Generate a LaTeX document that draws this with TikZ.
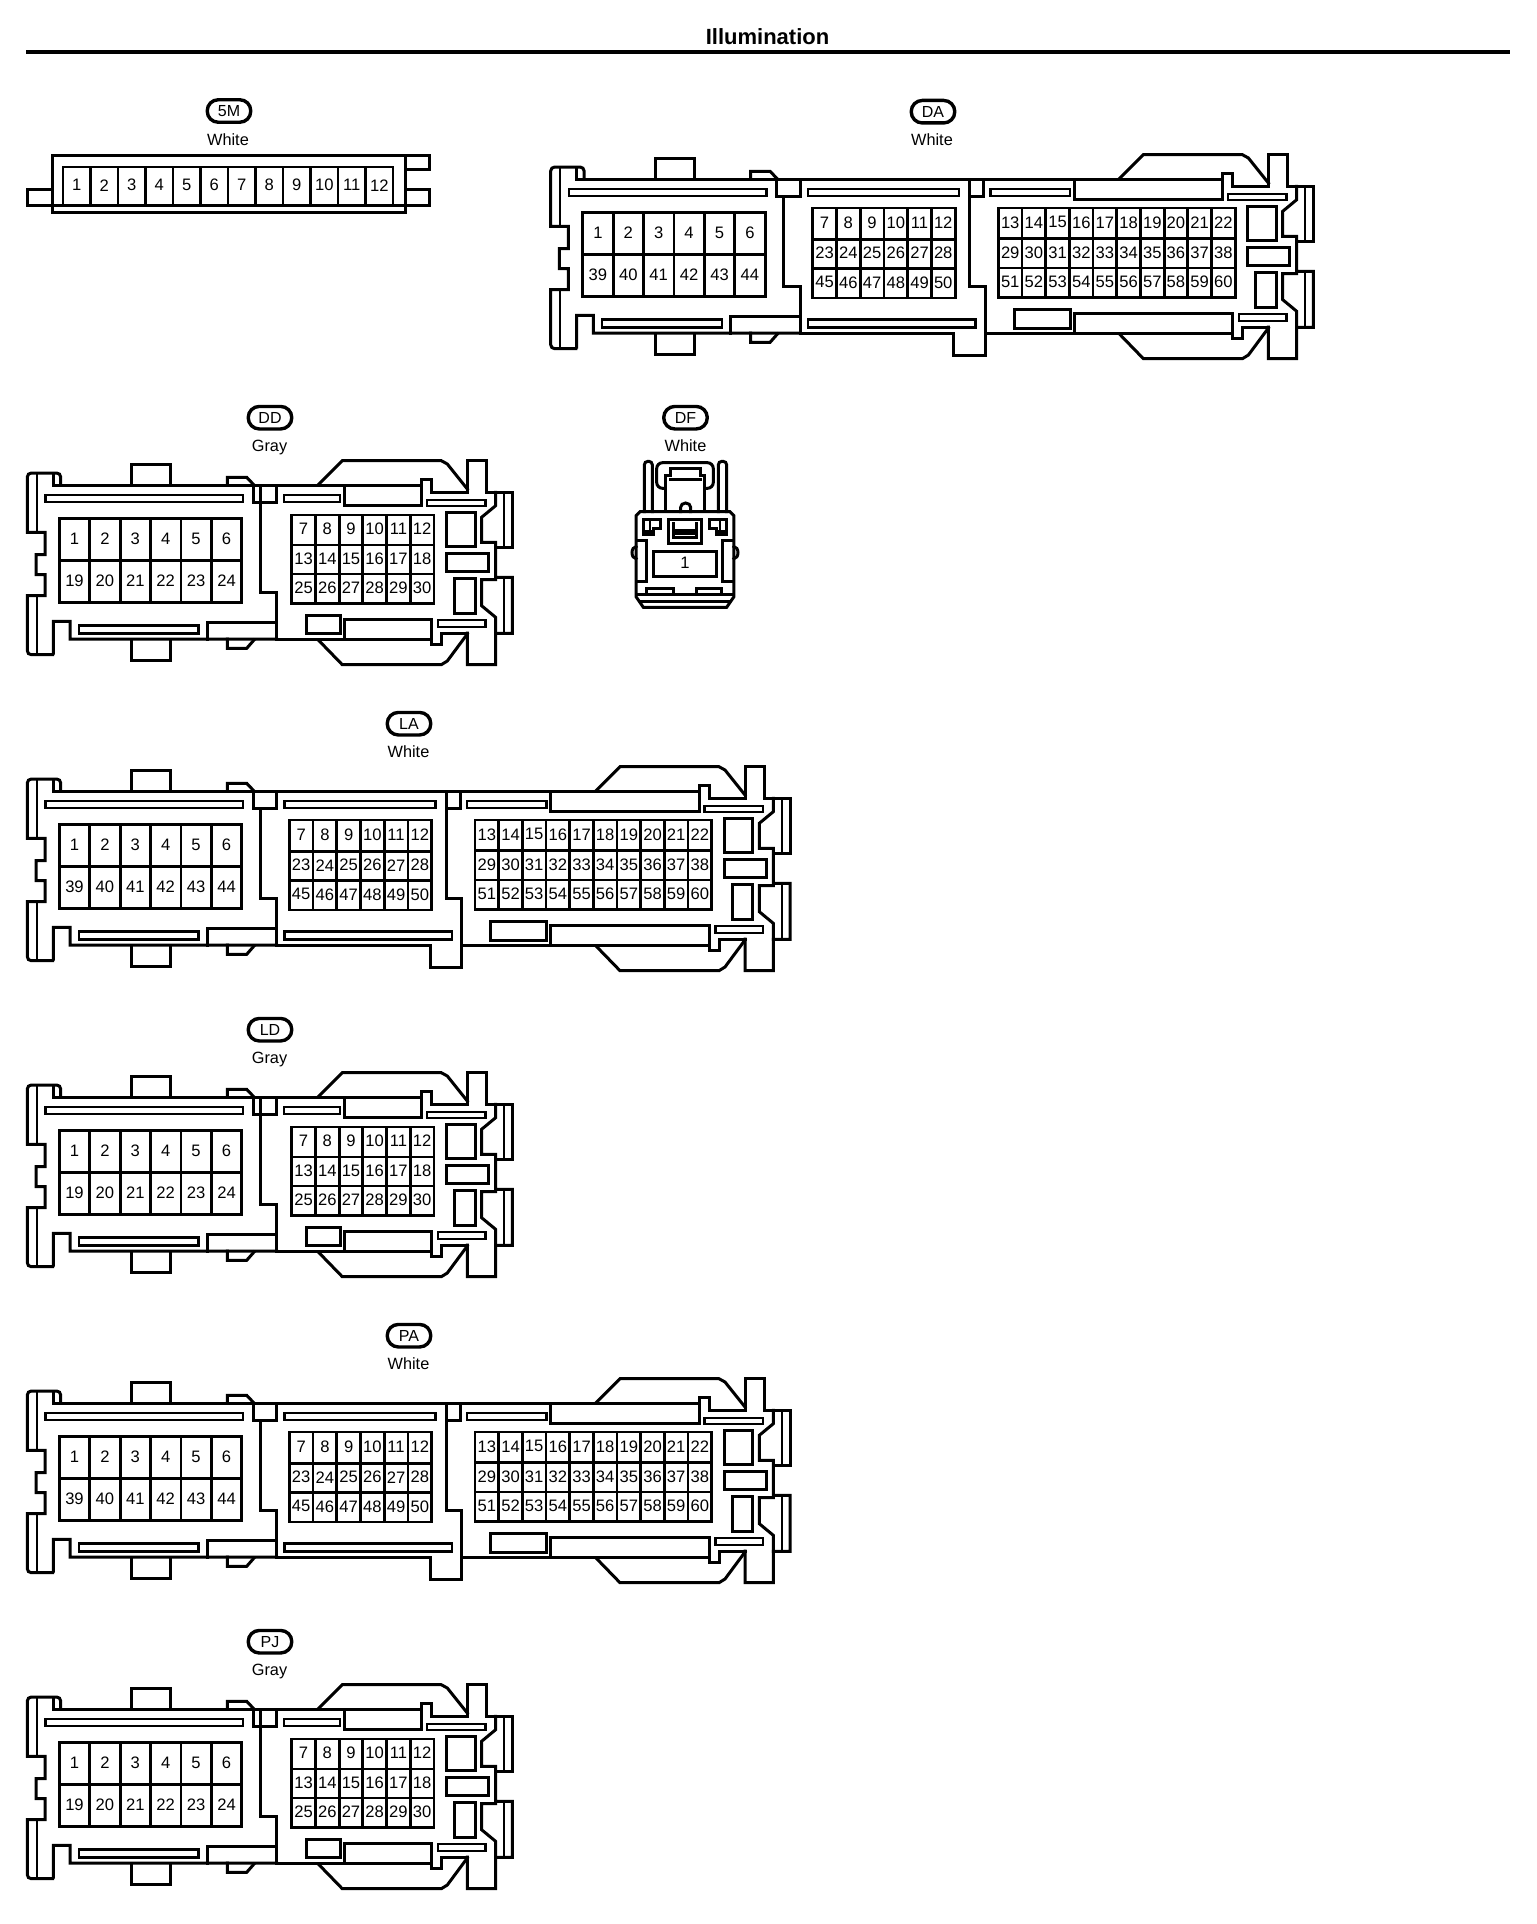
\documentclass[tikz,border=0pt]{standalone}
\usepackage{fontspec}
\setmainfont{Liberation Sans}
\tikzset{
  ln/.style={draw=black,line width=3.0pt,line cap=rect,line join=miter},
  gridln/.style={draw=black,line width=2.8pt,line cap=rect,line join=miter},
  slotln/.style={draw=black,line width=2.4pt,line cap=rect,line join=miter},
  pinlabel/.style={inner sep=0pt,yshift=1pt,font=\fontsize{16.6}{18}\selectfont,text=black},
  colourlabel/.style={inner sep=0pt,anchor=base,yshift=-6pt,font=\fontsize{16.3}{18}\selectfont,text=black},
  badge/.style={draw=black,line width=3.4pt,rounded corners=11pt,minimum width=43.5pt,minimum height=22.5pt,inner sep=0pt,font=\fontsize{16}{18}\selectfont},
  titlelabel/.style={inner sep=0pt,font=\fontsize{22}{26}\selectfont\bfseries}
}
% x0 x1 y0 y1 columns list
\newcommand{\pinrow}[6]{%
  \draw[gridln] (#1,#3) rectangle (#2,#4);
  \pgfmathsetmacro\pincw{(#2-#1)/#5}
  \pgfmathsetmacro\pincy{(#3+#4)/2}
  \foreach \t [count=\i] in {#6} {
    \pgfmathsetmacro\pincx{#1+(\i-0.5)*\pincw}
    \pgfmathsetmacro\pindx{#1+\i*\pincw}
    \node[pinlabel] (pin-\cn-\t) at (\pincx,\pincy) {\t};
    \ifnum\i<#5\relax \draw[gridln] (\pindx,#3) -- (\pindx,#4);\fi
  }%
}
\newcommand{\LeftPiece}{%
  \draw[ln] (60.7,179) [rounded corners=4] -- (60.7,167) -- (27.3,167) -- (27.3,200) [sharp corners] -- (27.3,226.3) -- (45,226.3) -- (45,248.7) -- (36,248.7) -- (36,268.7) -- (45,268.7) -- (45,289.7) -- (27.3,289.7) -- (27.3,320) [rounded corners=4] -- (27.3,348.7) -- (50,348.7) [sharp corners] -- (53.3,348.7) -- (53.3,315.3) -- (70,315.3) -- (70,333) -- (276.7,333);
  \draw[ln] (53.3,167) -- (53.3,179) -- (276.7,179);
  \draw[slotln] (36.7,167) -- (36.7,226.3) (36.7,289.7) -- (36.7,348.7);
  \draw[ln] (131.7,179) -- (131.7,158.7) -- (170.7,158.7) -- (170.7,179);
  \draw[ln] (131.7,333) -- (131.7,354.7) -- (170.7,354.7) -- (170.7,333);
  \draw[ln] (227.3,179) -- (227.3,171.3) -- (246.7,171.3) -- (254,179);
  \draw[ln] (227.3,333) -- (227.3,342.3) -- (246.7,342.3) -- (254,334);
  \draw[slotln] (45.5,189) rectangle (243,196);
  \draw[slotln] (78.8,319.5) rectangle (198.5,327.5);
  \draw[ln] (207.3,333) -- (207.3,316.3) -- (276.7,316.3);
  \draw[ln] (253.3,179) -- (253.3,196.3) -- (276.7,196.3) -- (276.7,179);
  \draw[ln] (260,196.3) -- (260,286.3) -- (276.7,286.3) -- (276.7,333);
}
% #1: left edge of the long top and bottom recesses, in the frame of the long connector
\newcommand{\EndPiece}[1]{%
  \draw[ln] (#1,179) -- (699.3,179) -- (699.3,173.7) -- (709.3,173.7) -- (709.3,186.3) -- (745,186.3);
  \draw[ln] (#1,179) -- (#1,199.7) -- (699.3,199.7) -- (699.3,179);
  \draw[ln] (#1,333) -- (709.3,333) -- (709.3,338.7) -- (719.3,338.7) -- (719.3,327) -- (745,327);
  \draw[ln] (#1,333) -- (#1,313) -- (709.3,313) -- (709.3,333);
  \draw[ln] (596.7,178) -- (620,154.7) -- (719,154.7) -- (725,158) -- (745,183);
  \draw[ln] (596.7,334.7) -- (620,358.7) -- (719,358.7) -- (725,355) -- (745,328);
  \draw[ln] (745,186.3) -- (745,154.7) -- (764.3,154.7) -- (764.3,186.3) -- (790,186.3) -- (790,241.3) -- (773.3,241.3);
  \draw[ln] (773.3,186.3) -- (773.3,199.7) -- (759.3,211.3) -- (759.3,236.3) -- (773.3,236.3) -- (773.3,271.3) -- (790,271.3) -- (790,327.3) -- (773.3,327.3);
  \draw[slotln] (781.7,186.3) -- (781.7,241.3) (781.7,271.3) -- (781.7,327.3);
  \draw[ln] (773.3,273.7) -- (759.3,273.7) -- (759.3,299.7) -- (773.3,311.3) -- (773.3,358.7) -- (745,358.7) -- (745,327);
  \draw[slotln] (704.5,194) rectangle (763,199.7);
  \draw[slotln] (715.5,314) rectangle (763,320.7);
  \draw[ln] (724,206.3) rectangle (752.7,240.7);
  \draw[ln] (724,247.3) rectangle (766,265.3);
  \draw[ln] (732.3,272) rectangle (752.7,307);
}
\newcommand{\LongConn}[3]{% name, shift x, shift y
  \def\cn{#1}%
  \begin{scope}[shift={(#2,#3)}]
    \LeftPiece
    \draw[ln] (276.7,179) -- (550.7,179);
    \draw[ln] (276.7,333) -- (430,333) -- (430,355.3) -- (461.7,355.3) -- (461.7,333) -- (550.7,333);
    \draw[ln] (446.5,179) -- (446.5,286.3) -- (461.7,286.3) -- (461.7,333);
    \draw[ln] (446.5,196.3) -- (460.5,196.3) -- (460.5,179);
    \draw[slotln] (284.5,189) rectangle (435.5,196);
    \draw[slotln] (284.5,319.5) rectangle (452,327.5);
    \draw[slotln] (467,189) rectangle (546.5,196);
    \draw[ln] (490.7,309.7) rectangle (546.7,328);
    \EndPiece{550.7}
    \pinrow{59.3}{241.7}{212.3}{254.7}{6}{1,2,3,4,5,6}
    \pinrow{59.3}{241.7}{254.7}{296.3}{6}{39,40,41,42,43,44}
    \pinrow{289.3}{431.7}{208}{239.7}{6}{7,8,9,10,11,12}
    \pinrow{289.3}{431.7}{239.7}{268.7}{6}{23,24,25,26,27,28}
    \pinrow{289.3}{431.7}{268.7}{298}{6}{45,46,47,48,49,50}
    \pinrow{475}{711.7}{208}{238.7}{10}{13,14,15,16,17,18,19,20,21,22}
    \pinrow{475}{711.7}{238.7}{268}{10}{29,30,31,32,33,34,35,36,37,38}
    \pinrow{475}{711.7}{268}{297.3}{10}{51,52,53,54,55,56,57,58,59,60}
  \end{scope}
}
\newcommand{\ShortConn}[3]{%
  \def\cn{#1}%
  \begin{scope}[shift={(#2,#3)}]
    \LeftPiece
    \draw[ln] (276.7,179) -- (344,179);
    \draw[ln] (276.7,333) -- (344,333);
    \draw[ln] (260,179) -- (260,196.3);
    \draw[slotln] (283.8,189) rectangle (339.7,195.7);
    \draw[ln] (306.7,309.7) rectangle (340.7,327.3);
    \begin{scope}[shift={(-277.7,0)}]
      \EndPiece{621.7}
    \end{scope}
    \pinrow{59.3}{241.7}{212.3}{254.7}{6}{1,2,3,4,5,6}
    \pinrow{59.3}{241.7}{254.7}{296.3}{6}{19,20,21,22,23,24}
    \pinrow{291.7}{434}{209}{239}{6}{7,8,9,10,11,12}
    \pinrow{291.7}{434}{239}{268}{6}{13,14,15,16,17,18}
    \pinrow{291.7}{434}{268}{297.3}{6}{25,26,27,28,29,30}
  \end{scope}
}
\begin{document}
\begin{tikzpicture}[x=1pt,y=-1pt]
\useasboundingbox (0,0) rectangle (1536,1924);
\fill[white] (0,0) rectangle (1536,1924);
% header
\node[titlelabel] (title) at (767.5,36.5) {Illumination};
\coordinate (ruleL) at (26,51.7);
\coordinate (ruleR) at (1509.5,51.7);
\draw[black,line width=3.7pt] (ruleL) -- (ruleR);
% badges and colours
\node[badge] (b5M) at (229,111) {5M};
\node[colourlabel] (c5M) at (228,139.5) {White};
\node[badge] (bDA) at (933,111.7) {DA};
\node[colourlabel] (cDA) at (932,139.5) {White};
\node[badge] (bDD) at (270,417.7) {DD};
\node[colourlabel] (cDD) at (269.5,445.5) {Gray};
\node[badge] (bDF) at (685.5,417.7) {DF};
\node[colourlabel] (cDF) at (685.5,445.5) {White};
\node[badge] (bLA) at (409,723.7) {LA};
\node[colourlabel] (cLA) at (408.5,751.5) {White};
\node[badge] (bLD) at (270,1029.7) {LD};
\node[colourlabel] (cLD) at (269.5,1057.5) {Gray};
\node[badge] (bPA) at (409,1335.7) {PA};
\node[colourlabel] (cPA) at (408.5,1363.5) {White};
\node[badge] (bPJ) at (270,1641.7) {PJ};
\node[colourlabel] (cPJ) at (269.5,1669.5) {Gray};
% 5M
\def\cn{5M}
\draw[ln] (52,155) rectangle (405,212.7);
\draw[ln] (27,205.5) -- (429,205.5);
\draw[ln] (52,189) -- (27,189) -- (27,205.5);
\draw[ln] (405,155) -- (429,155) -- (429,169) -- (405,169);
\draw[ln] (405,189) -- (429,189) -- (429,205.5);
\pinrow{63}{393}{167}{205.5}{12}{1,2,3,4,5,6,7,8,9,10,11,12}
% big connectors
\LongConn{DA}{523.4}{0}
\ShortConn{DD}{0}{306}
\LongConn{LA}{0}{612}
\ShortConn{LD}{0}{918}
\LongConn{PA}{0}{1224}
\ShortConn{PJ}{0}{1530}
% DF
\begin{scope}[shift={(610,400)},x=0.3333pt,y=-0.3333pt]
  \draw[ln] (90,335) -- (360,335) -- (372,347) -- (372,590) -- (350,622) -- (100,622) -- (78,590) -- (78,347) -- cycle;
  \draw[ln] (78,585) -- (372,585);
  \draw[ln] (90,604) -- (360,604);
  \draw[ln,rounded corners=3.5pt] (103,335) -- (103,184) -- (127,184) -- (127,335);
  \draw[ln,rounded corners=3.5pt] (325,335) -- (325,184) -- (350,184) -- (350,335);
  \draw[ln,rounded corners=6pt] (165,265) -- (140,265) -- (140,188) -- (310,188) -- (310,265) -- (285,265);
  \draw[ln] (165,335) -- (165,228) -- (180,228) -- (180,205) -- (272,205) -- (272,228) -- (285,228) -- (285,335);
  \draw[ln] (180,238) -- (272,238);
  \draw[ln] (212,335) -- (212,322) arc[start angle=180,end angle=360,x radius=15,y radius=13] -- (242,335);
  \draw[ln] (175,358) rectangle (275,430);
  \draw[ln] (190,372) -- (190,412) -- (260,412) -- (260,372);
  \draw[ln] (190,392) -- (260,392) (190,402) -- (260,402);
  \draw[ln] (100,360) -- (150,360) -- (150,385) -- (130,385) -- (130,405) -- (100,405) -- cycle;
  \draw[slotln] (120,362) -- (120,390) (100,395) -- (130,395);
  \draw[ln] (350,360) -- (300,360) -- (300,385) -- (320,385) -- (320,405) -- (350,405) -- cycle;
  \draw[slotln] (330,362) -- (330,390) (320,395) -- (350,395);
  \draw[ln] (78,422) -- (110,422) -- (110,545) -- (78,545);
  \draw[ln] (372,422) -- (338,422) -- (338,545) -- (372,545);
  \draw[ln] (78,440) arc[start angle=270,end angle=90,x radius=12,y radius=18];
  \draw[ln] (372,440) arc[start angle=-90,end angle=90,x radius=12,y radius=18];
  \draw[ln] (130,455) rectangle (320,530);
  \draw[ln] (110,585) -- (110,565) -- (190,565) -- (190,585);
  \draw[ln] (258,585) -- (258,565) -- (335,565) -- (335,585);
  \node[pinlabel] (pin-DF-1) at (225,492) {1};
\end{scope}
\end{tikzpicture}
\end{document}
